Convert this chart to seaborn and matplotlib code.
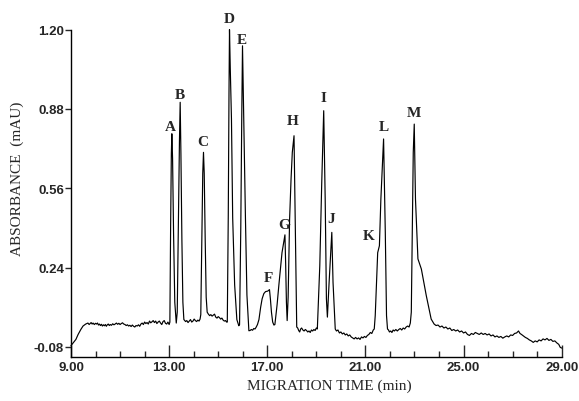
import numpy as np
import pandas as pd
import matplotlib
matplotlib.use('Agg')
import matplotlib.pyplot as plt
from matplotlib.ticker import MultipleLocator, FixedLocator, FormatStrFormatter
import seaborn as sns


# ---------- data ----------
# migration time (min) / absorbance (mAU), written line by line in matching rows
time = [
    9.00, 9.08, 9.20, 9.29, 9.40, 9.49, 9.60,
    9.69, 9.74, 9.78, 9.82, 9.86, 9.90, 9.95, 10.00, 10.04, 10.08,
    10.12, 10.16, 10.20, 10.24, 10.28, 10.32, 10.36, 10.40, 10.44, 10.48,
    10.52, 10.56, 10.60, 10.65, 10.70, 10.75, 10.80, 10.85, 10.90, 10.95,
    11.00, 11.05, 11.10, 11.15, 11.20, 11.25, 11.30, 11.35, 11.40, 11.45,
    11.50, 11.55, 11.60, 11.65, 11.70, 11.75, 11.80, 11.85, 11.90, 11.95,
    12.00, 12.05, 12.10, 12.15, 12.20, 12.25, 12.30, 12.35, 12.40, 12.45,
    12.50, 12.55, 12.60, 12.65, 12.70, 12.75, 12.80, 12.85, 12.90, 12.95,
    13.00,
    # A, B
    13.03, 13.06, 13.09, 13.11, 13.14, 13.18, 13.23, 13.29,
    13.33, 13.38, 13.42, 13.45, 13.48, 13.52, 13.56, 13.60,
    13.62, 13.67, 13.72, 13.77, 13.82, 13.87, 13.92,
    13.97, 14.02, 14.07, 14.12, 14.17, 14.22, 14.26,
    # C
    14.29, 14.33, 14.37, 14.40, 14.43, 14.47, 14.51, 14.55,
    14.60, 14.65, 14.70, 14.75, 14.80, 14.85, 14.90, 14.95,
    15.00, 15.05, 15.10, 15.15, 15.20, 15.25, 15.30, 15.34,
    # D, E
    15.37, 15.41, 15.44, 15.46, 15.49, 15.54, 15.59, 15.67, 15.76, 15.84,
    15.87, 15.92, 15.96, 15.99, 16.04, 16.11, 16.17, 16.25,
    16.30, 16.35, 16.40, 16.45, 16.50, 16.55, 16.60,
    # F, G, H
    16.66, 16.73, 16.79, 16.86, 16.93, 17.02, 17.09, 17.13, 17.17, 17.22, 17.27,
    17.31, 17.40, 17.47, 17.60, 17.72, 17.75, 17.78, 17.81,
    17.85, 17.91, 17.97, 18.02, 18.09, 18.12, 18.16, 18.20,
    18.24, 18.28, 18.32, 18.36, 18.40, 18.45, 18.50, 18.55, 18.60,
    18.65, 18.70, 18.75, 18.80, 18.85, 18.90, 18.95, 19.00,
    # I, J
    19.04, 19.14, 19.22, 19.30, 19.36, 19.41, 19.45, 19.52, 19.63, 19.68, 19.77,
    19.82, 19.88, 19.94, 20.00, 20.06, 20.12, 20.18, 20.24, 20.30,
    20.36, 20.42, 20.48, 20.54, 20.60, 20.66, 20.72, 20.78, 20.84,
    20.90, 20.96, 21.02, 21.08, 21.14, 21.20, 21.26, 21.32, 21.36,
    # K, L
    21.40, 21.50, 21.57, 21.63, 21.74, 21.81, 21.86, 21.90,
    21.94, 21.98, 22.03, 22.08, 22.13, 22.18, 22.24, 22.30, 22.36,
    22.42, 22.48, 22.54, 22.60, 22.66, 22.72, 22.78, 22.83,
    # M and tail
    22.87, 22.91, 22.95, 22.99, 23.04, 23.14, 23.28, 23.48, 23.68, 23.75,
    23.80, 23.88, 23.96, 24.04, 24.12, 24.20, 24.28, 24.36, 24.44, 24.52,
    24.60, 24.68, 24.76, 24.84, 24.92, 25.00, 25.08, 25.16, 25.24, 25.32,
    25.40, 25.48, 25.56, 25.64, 25.72, 25.80, 25.88, 25.96, 26.04, 26.12,
    26.20, 26.28, 26.36, 26.44, 26.52, 26.60, 26.68, 26.76, 26.84, 26.92,
    27.00, 27.08, 27.16, 27.24, 27.30, 27.36, 27.44, 27.52, 27.60, 27.68,
    27.76, 27.84, 27.92, 28.00, 28.08, 28.16, 28.24, 28.32, 28.40, 28.48,
    28.56, 28.64, 28.72, 28.80, 28.88, 28.94, 29.00,
]
absorbance = [
    -0.075, -0.065, -0.050, -0.030, -0.010, 0.004, 0.012,
    0.016, 0.010, 0.014, 0.018, 0.012, 0.016, 0.010, 0.015, 0.012, 0.016,
    0.008, 0.012, 0.006, 0.011, 0.004, 0.009, 0.005, 0.010, 0.003, 0.009,
    0.012, 0.006, 0.010, 0.007, 0.013, 0.009, 0.012, 0.016, 0.011, 0.015,
    0.010, 0.014, 0.017, 0.012, 0.010, 0.006, 0.009, 0.004, 0.007, 0.002,
    0.008, 0.003, 0.000, 0.006, 0.004, 0.009, 0.003, 0.012, 0.016, 0.010,
    0.020, 0.014, 0.018, 0.012, 0.024, 0.017, 0.021, 0.026, 0.018, 0.024,
    0.014, 0.020, 0.024, 0.016, 0.010, 0.022, 0.026, 0.015, 0.012, 0.020,
    0.010,
    # A, B
    0.020, 0.400, 0.700, 0.780, 0.680, 0.380, 0.100, 0.016,
    0.060, 0.450, 0.750, 0.907, 0.700, 0.350, 0.100, 0.030,
    0.028, 0.022, 0.026, 0.018, 0.024, 0.030, 0.020,
    0.024, 0.032, 0.026, 0.022, 0.028, 0.024, 0.032,
    # C
    0.050, 0.350, 0.620, 0.705, 0.620, 0.350, 0.120, 0.060,
    0.052, 0.046, 0.050, 0.044, 0.048, 0.052, 0.040, 0.036,
    0.042, 0.038, 0.032, 0.036, 0.028, 0.024, 0.026, 0.020,
    # D, E
    0.020, 0.450, 0.950, 1.200, 1.050, 0.840, 0.440, 0.170, 0.030, 0.005,
    0.010, 0.400, 0.850, 1.135, 0.840, 0.440, 0.130, -0.015,
    -0.014, -0.010, -0.013, -0.006, -0.008, 0.000, 0.010,
    # F, G, H
    0.030, 0.080, 0.114, 0.135, 0.143, 0.145, 0.151, 0.110, 0.060, 0.020, 0.008,
    0.010, 0.090, 0.167, 0.300, 0.372, 0.250, 0.100, 0.026,
    0.120, 0.436, 0.600, 0.705, 0.772, 0.550, 0.280, 0.000,
    -0.004, -0.014, -0.020, -0.008, -0.004, -0.012, -0.016, -0.010, -0.014,
    -0.020, -0.016, -0.022, -0.012, -0.016, -0.010, -0.014, -0.004,
    # I, J
    -0.008, 0.247, 0.584, 0.873, 0.517, 0.114, 0.040, 0.180, 0.382, 0.180, -0.008,
    -0.016, -0.012, -0.024, -0.020, -0.028, -0.024, -0.032, -0.028, -0.036,
    -0.032, -0.040, -0.044, -0.048, -0.042, -0.048, -0.044, -0.050, -0.040,
    -0.044, -0.038, -0.042, -0.034, -0.030, -0.022, -0.026, -0.012, -0.008,
    # K, L
    0.046, 0.300, 0.328, 0.517, 0.759, 0.382, 0.046, -0.008,
    -0.012, -0.020, -0.016, -0.022, -0.012, -0.016, -0.010, -0.016, -0.010,
    -0.006, -0.012, -0.004, -0.008, 0.000, 0.004, 0.000, 0.016,
    # M and tail
    0.060, 0.382, 0.705, 0.819, 0.517, 0.275, 0.234, 0.127, 0.032, 0.020,
    0.012, 0.006, 0.008, 0.000, 0.004, -0.004, 0.000, -0.008, -0.004, -0.014,
    -0.010, -0.016, -0.012, -0.020, -0.016, -0.024, -0.020, -0.030, -0.034, -0.026,
    -0.030, -0.022, -0.026, -0.030, -0.024, -0.030, -0.026, -0.032, -0.028, -0.036,
    -0.032, -0.040, -0.036, -0.042, -0.038, -0.045, -0.040, -0.036, -0.040, -0.032,
    -0.034, -0.026, -0.024, -0.016, -0.026, -0.030, -0.036, -0.042, -0.046, -0.052,
    -0.056, -0.062, -0.056, -0.060, -0.052, -0.056, -0.048, -0.052, -0.046, -0.054,
    -0.050, -0.058, -0.056, -0.064, -0.070, -0.082, -0.085,
]

# peak letters and where they sit
peak_names = ['A', 'B', 'C', 'D', 'E', 'F', 'G', 'H', 'I', 'J', 'K', 'L', 'M']
peak_label_t = [13.05, 13.42, 14.36, 15.45, 15.98, 17.04, 17.68, 18.05,
                19.28, 19.60, 21.12, 21.74, 22.96]
peak_label_v = [0.811, 0.940, 0.747, 1.247, 1.162, 0.198, 0.412, 0.835,
                0.928, 0.440, 0.370, 0.810, 0.864]

x_ticks = [9, 13, 17, 21, 25, 29]
y_ticks = [-0.08, 0.24, 0.56, 0.88, 1.20]

trace = pd.DataFrame({'time': time, 'absorbance': absorbance})

# ---------- plot ----------
sns.set_style('ticks')
plt.rcParams['font.family'] = ['Liberation Sans', 'DejaVu Sans']

fig = plt.figure(figsize=(5.79, 4.02), dpi=100)
ax = fig.add_axes([71 / 579, 44 / 402, 490.7 / 579, 327.3 / 402])

sns.lineplot(x='time', y='absorbance', data=trace, sort=False, estimator=None,
             color='black', lw=0.85, ax=ax)
ax.lines[0].set_clip_on(False)

ax.set_xlim(9, 29)
ax.set_ylim(-0.121, 1.20)
sns.despine(ax=ax)
for s in ['left', 'bottom']:
    ax.spines[s].set_linewidth(1.0)
    ax.spines[s].set_color('black')

ax.xaxis.set_major_locator(FixedLocator(x_ticks))
ax.xaxis.set_minor_locator(MultipleLocator(1))
ax.xaxis.set_major_formatter(FormatStrFormatter('%.2f'))
ax.yaxis.set_major_locator(FixedLocator(y_ticks))
ax.yaxis.set_major_formatter(FormatStrFormatter('%.2f'))

ax.tick_params(axis='x', which='major', direction='in', length=9, width=1, pad=3)
ax.tick_params(axis='x', which='minor', direction='in', length=4.5, width=1)
ax.tick_params(axis='y', which='major', direction='out', length=4, width=1, pad=1)
for lab in ax.get_xticklabels() + ax.get_yticklabels():
    lab.set_fontweight('bold')
    lab.set_fontsize(9.5)

ax.set_xlabel('MIGRATION TIME (min)', fontfamily='Liberation Serif', fontsize=11)
ax.set_ylabel('ABSORBANCE  (mAU)', fontfamily='Liberation Serif', fontsize=11)
ax.xaxis.set_label_coords(0.526, -0.067)
ax.yaxis.set_label_coords(-0.095, 0.547)

for name, tx, ty in zip(peak_names, peak_label_t, peak_label_v):
    ax.text(tx, ty, name, ha='center', va='center', fontfamily='Liberation Serif',
            fontweight='bold', fontsize=11, clip_on=False)

fig.savefig('out.png', dpi=100)
